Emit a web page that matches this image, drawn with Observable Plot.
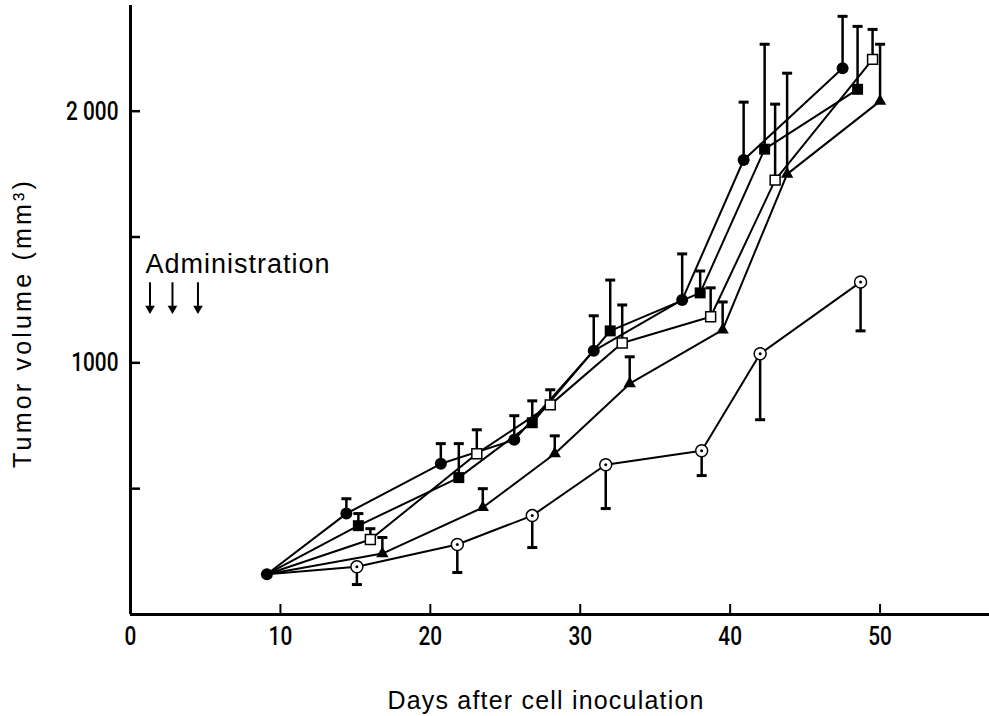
<!DOCTYPE html>
<html>
<head>
<meta charset="utf-8">
<script src="https://cdn.jsdelivr.net/npm/d3@7"></script>
<script src="https://cdn.jsdelivr.net/npm/@observablehq/plot@0.6"></script>
<style>
  html, body { margin: 0; padding: 0; background: #fff; }
</style>
</head>
<body>
<div id="chart"></div>
<script>
// ---- Data ----
const startDay = 9.1;
const startVol = 160;

// filled circles
const circleDays = [14.4, 20.7, 25.6, 30.9, 36.8, 40.9, 47.5];
const circleVol  = [401, 599, 694, 1048, 1250, 1806, 2171];
const circleSD   = [59, 80, 96, 139, 183, 230, 206];

// filled squares
const squareDays = [15.2, 21.9, 26.8, 32.0, 38.0, 42.3, 48.5];
const squareVol  = [353, 544, 762, 1127, 1278, 1849, 2087];
const squareSD   = [48, 135, 87, 202, 87, 417, 250];

// open squares
const openSqDays = [16.0, 23.1, 28.0, 32.8, 38.7, 43.0, 49.5];
const openSqVol  = [298, 639, 833, 1079, 1183, 1726, 2206];
const openSqSD   = [43, 95, 60, 151, 115, 302, 119];

// filled triangles
const triDays = [16.8, 23.5, 28.3, 33.3, 39.5, 43.8, 50.0];
const triVol  = [242, 425, 639, 917, 1131, 1750, 2040];
const triSD   = [64, 75, 71, 107, 111, 401, 226];

// control (dotted open circles), error bars drawn downward
const ctrlDays = [15.1, 21.8, 26.8, 31.7, 38.1, 42.0, 48.7];
const ctrlVol  = [190, 278, 393, 595, 651, 1036, 1321];
const ctrlSD   = [71, 111, 127, 174, 99, 262, 194];

// ticks and labels
const xTickVals  = [10, 20, 30, 40, 50];
const xLabelVals = [0, 10, 20, 30, 40, 50];
const yTickVals  = [500, 1000, 1500, 2000];
const yLabelVals = [1000, 2000];
const yLabelText = ["1000", "2 000"];

// annotation
const adminDays = [1.3, 2.8, 4.5];
const adminLabel = "Administration";
const adminTextPos = {day: 1.0, vol: 1357};
const adminArrowFrom = 1318;
const adminArrowHead = 1216;

const xTitle = "Days after cell inoculation";
const yTitle = "Tumor volume (mm³)";

// ---- Build tables ----
function series(name, days, vols, sds, dir) {
  const pts = [{series: name, day: startDay, vol: startVol}];
  const errs = [];
  days.forEach((d, i) => {
    pts.push({series: name, day: d, vol: vols[i]});
    errs.push({series: name, day: d, vol: vols[i], end: vols[i] + dir * sds[i]});
  });
  return {pts, errs};
}
const S = {
  circle: series("circle", circleDays, circleVol, circleSD, 1),
  square: series("square", squareDays, squareVol, squareSD, 1),
  openSq: series("openSq", openSqDays, openSqVol, openSqSD, 1),
  tri:    series("tri", triDays, triVol, triSD, 1),
  ctrl:   series("ctrl", ctrlDays, ctrlVol, ctrlSD, -1)
};
const allPts = Object.values(S).flatMap(s => s.pts);
const allErrs = Object.values(S).flatMap(s => s.errs);
const markers = s => s.pts.slice(1);

const capSymbol = {
  draw(ctx) { ctx.moveTo(-5, 0); ctx.lineTo(5, 0); }
};

const tickFont = "Roboto, 'Liberation Sans', sans-serif";
const labelFont = "'Liberation Sans', Arial, Helvetica, sans-serif";

const chart = Plot.plot({
  width: 989,
  height: 716,
  marginLeft: 130,
  marginRight: 0,
  marginTop: 5,
  marginBottom: 102,
  x: {domain: [0, 57.3]},
  y: {domain: [0, 2420]},
  style: {background: "#fff", color: "#000"},
  marks: [
    // axis lines
    Plot.ruleX([0], {strokeWidth: 3}),
    Plot.ruleY([0], {strokeWidth: 3}),
    // inward ticks
    Plot.axisX({ticks: xTickVals, tickSize: 10, dy: -10, tickFormat: () => "", label: null, strokeWidth: 2}),
    Plot.axisY({ticks: yTickVals, tickSize: 10, dx: 10, tickFormat: () => "", label: null, strokeWidth: 2.5}),
    // tick labels
    Plot.axisX({ticks: xLabelVals, tickSize: 0, tickPadding: 12, label: null, tickFormat: d => String(d),
      fontSize: 26, fontFamily: tickFont, fontWeight: 500}),
    Plot.axisY({ticks: yLabelVals, tickSize: 0, tickPadding: 12, label: null,
      tickFormat: d => yLabelText[yLabelVals.indexOf(d)], fontSize: 26, fontFamily: tickFont, fontWeight: 500}),
    // axis titles
    Plot.text([xTitle], {frameAnchor: "bottom", dy: 86, dx: -14, text: d => d,
      textAnchor: "middle", fontSize: 25, fontFamily: labelFont, lineAnchor: "middle"}),
    Plot.text([yTitle], {frameAnchor: "left", dx: -108, dy: 13, rotate: -90, text: d => d,
      textAnchor: "middle", fontSize: 25, fontFamily: labelFont, lineAnchor: "middle"}),
    // annotation
    Plot.text([adminLabel], {x: () => adminTextPos.day, y: () => adminTextPos.vol, text: d => d,
      textAnchor: "start", lineAnchor: "bottom", fontSize: 27, fontFamily: labelFont}),
    Plot.ruleX(adminDays, {x: d => d, y1: () => adminArrowFrom, y2: () => adminArrowHead, strokeWidth: 2}),
    Plot.dot(adminDays, {x: d => d, y: () => adminArrowHead, symbol: "triangle", rotate: 180, r: 3.6, fill: "black"}),
    // lines
    Plot.line(allPts, {x: "day", y: "vol", z: "series", stroke: "black", strokeWidth: 2}),
    // error bars
    Plot.ruleX(allErrs, {x: "day", y1: "vol", y2: "end", stroke: "black", strokeWidth: 2.5}),
    Plot.dot(allErrs, {x: "day", y: "end", symbol: capSymbol, stroke: "black", strokeWidth: 3, fill: "none"}),
    // markers
    Plot.dot([allPts[0]], {x: "day", y: "vol", r: 6, fill: "black"}),
    Plot.dot(markers(S.circle), {x: "day", y: "vol", r: 6, fill: "black"}),
    Plot.dot(markers(S.square), {x: "day", y: "vol", r: 6.2, symbol: "square", fill: "black"}),
    Plot.dot(markers(S.openSq), {x: "day", y: "vol", r: 5.6, symbol: "square", fill: "white", stroke: "black", strokeWidth: 1.5}),
    Plot.dot(markers(S.tri), {x: "day", y: "vol", r: 4.6, symbol: "triangle", fill: "black"}),
    Plot.dot(markers(S.ctrl), {x: "day", y: "vol", r: 6, fill: "white", stroke: "black", strokeWidth: 1.5}),
    Plot.dot(markers(S.ctrl), {x: "day", y: "vol", r: 1.5, fill: "black"})
  ]
});
// post-style text by content: condensed tick labels, spaced titles
const tickLabelSet = new Set([...xLabelVals.map(String), ...yLabelText]);
chart.querySelectorAll("text").forEach(el => {
  const s = el.textContent;
  if (tickLabelSet.has(s)) {
    const t = el.getAttribute("transform") || "";
    el.setAttribute("transform", (t + " scale(0.8,1)").trim());
  } else if (s === xTitle) {
    el.style.letterSpacing = "1.2px";
  } else if (s === yTitle) {
    el.style.letterSpacing = "3.2px";
  } else if (s === adminLabel) {
    el.style.letterSpacing = "1px";
  }
});
document.getElementById("chart").appendChild(chart);
</script>
</body>
</html>
